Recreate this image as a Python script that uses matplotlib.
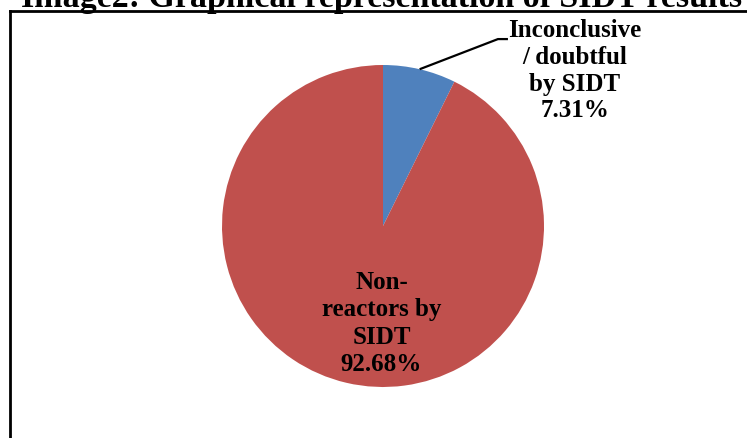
import matplotlib
matplotlib.use("Agg")
import matplotlib.pyplot as plt
import numpy as np

# Data
categories = ["Inconclusive\n/ doubtful\nby SIDT", "Non-\nreactors by\nSIDT"]
values = [7.31, 92.68]
value_labels = ["7.31%", "92.68%"]
colors = ["#4F81BD", "#C0504D"]
title = "Image2: Graphical representation of SIDT results"

W, H = 747, 439
fig = plt.figure(figsize=(W / 100, H / 100), dpi=100)
fig.patch.set_facecolor("white")

FONT = "Liberation Serif"

# Title (cut at the top like the reference)
fig.text(21 / W, 1 - 7 / H, title, ha="left", va="baseline",
         fontsize=24.5, fontweight="bold", family=FONT, color="black")

# Border box (left and top edges visible)
fig.add_artist(plt.Line2D([9.5 / W, 9.5 / W], [0, 1 - 12 / H], color="black", lw=2,
                          transform=fig.transFigure))
fig.add_artist(plt.Line2D([9.5 / W, 1], [1 - 12 / H, 1 - 12 / H], color="black", lw=2,
                          transform=fig.transFigure))

# Pie axes
cx, cy, r = 383, 227, 161
ax = fig.add_axes([(cx - r) / W, (H - cy - r) / H, 2 * r / W, 2 * r / H])
wedges, _ = ax.pie(values, colors=colors, startangle=90, counterclock=False,
                   radius=1.0, wedgeprops=dict(linewidth=0))
ax.set_xlim(-1, 1)
ax.set_ylim(-1, 1)
ax.set_aspect("auto")
ax.axis("off")

# Labels
lab0 = categories[0] + "\n" + value_labels[0]
lab1 = categories[1] + "\n" + value_labels[1]

ax.text(1.19, 0.97, lab0, ha="center", va="center", fontsize=18,
        fontweight="bold", family=FONT, linespacing=1.2, clip_on=False)
ax.text(-0.01, -0.60, lab1, ha="center", va="center", fontsize=18,
        fontweight="bold", family=FONT, linespacing=1.25)

# Leader line from blue wedge mid-angle
w = wedges[0]
theta = np.deg2rad((w.theta1 + w.theta2) / 2)
sx, sy = np.cos(theta), np.sin(theta)
ax.plot([sx, 0.714, 0.776], [sy, 1.161, 1.161], color="black", lw=1.6,
        clip_on=False, solid_capstyle="butt")

fig.savefig("out.png", dpi=100, facecolor="white")
